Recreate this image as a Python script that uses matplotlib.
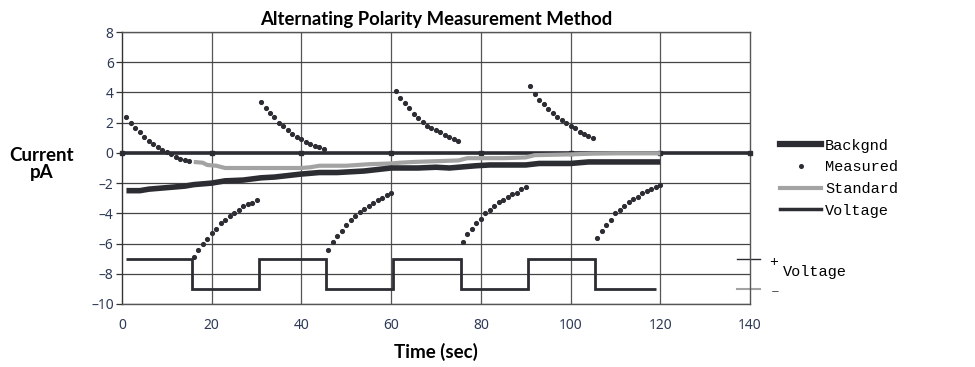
import numpy as np
import matplotlib
matplotlib.use("Agg")
import matplotlib.pyplot as plt
from matplotlib.lines import Line2D

# measured current, one reading per second, 8 half-cycles of 15 s
measured_t = np.arange(1, 121)
measured_pa = [
    2.4, 2.0, 1.65, 1.35, 1.05, 0.8, 0.6, 0.4, 0.2, 0.05, -0.1, -0.25, -0.4, -0.5, -0.55,
    -6.9, -6.45, -6.05, -5.7, -5.3, -5.05, -4.65, -4.45, -4.15, -4.0, -3.8, -3.5, -3.4, -3.3, -3.15,
    3.4, 3.0, 2.65, 2.35, 2.0, 1.75, 1.5, 1.27, 1.07, 0.9, 0.72, 0.58, 0.45, 0.36, 0.23,
    -6.45, -5.9, -5.5, -5.15, -4.8, -4.45, -4.2, -3.92, -3.74, -3.52, -3.3, -3.13, -2.99, -2.8, -2.64,
    4.1, 3.65, 3.3, 2.95, 2.55, 2.3, 2.05, 1.8, 1.65, 1.5, 1.35, 1.2, 1.07, 0.95, 0.8,
    -5.9, -5.4, -5.03, -4.63, -4.36, -4.0, -3.79, -3.52, -3.26, -3.13, -2.91, -2.73, -2.64, -2.42, -2.24,
    4.4, 3.9, 3.5, 3.25, 2.9, 2.65, 2.4, 2.15, 1.95, 1.8, 1.65, 1.4, 1.25, 1.15, 1.0,
    -5.66, -5.18, -4.78, -4.43, -4.01, -3.79, -3.52, -3.28, -3.04, -2.91, -2.64, -2.51, -2.4, -2.24, -2.15,
]

# background current (slow drift)
backgnd_t = [1, 4, 6, 10, 14, 16, 20, 23, 27, 31, 34, 37, 40, 44, 48, 54, 57, 60, 66, 70,
             73, 79, 82, 90, 93, 100, 104, 110, 120]
backgnd_pa = [-2.5, -2.5, -2.4, -2.3, -2.2, -2.1, -2.0, -1.85, -1.8, -1.65, -1.6, -1.5, -1.4,
              -1.3, -1.3, -1.2, -1.1, -1.0, -1.0, -0.95, -1.0, -0.85, -0.8, -0.8, -0.7, -0.7,
              -0.6, -0.6, -0.6]

# standard (alternating polarity result)
standard_t = [16, 18, 19, 21, 23, 30, 35, 40, 42, 44, 50, 55, 60, 62, 65, 70, 75, 77, 85,
              90, 92, 100, 105, 110, 120]
standard_pa = [-0.6, -0.65, -0.8, -0.85, -1.0, -1.0, -1.0, -1.0, -0.95, -0.85, -0.85, -0.75,
               -0.7, -0.65, -0.6, -0.55, -0.5, -0.35, -0.35, -0.3, -0.15, -0.1, -0.05, -0.03, -0.03]

# applied voltage (shown as a square wave on the current scale)
voltage_edges = [1, 15.5, 30.5, 45.5, 60.5, 75.5, 90.5, 105.5, 119]
voltage_levels = [-7, -9, -7, -9, -7, -9, -7, -9]

axis_ticks_x = [0, 20, 40, 60, 80, 100, 120, 140]
y_ticks = [8, 6, 4, 2, 0, -2, -4, -6, -8, -10]

dark = "#2b2d33"
grey = "#a3a3a3"
tick_col = "#2e3a55"

fig = plt.figure(figsize=(9.75, 3.67), dpi=100)
ax = fig.add_axes([0.1251, 0.1717, 0.6441, 0.7411])

ax.set_xlim(0, 140)
ax.set_ylim(-10, 8)

# grid
for x in axis_ticks_x[1:-1]:
    ax.axvline(x, color="#555555", lw=0.9, zorder=0)
for y in y_ticks:
    ax.axhline(y, color="#444444", lw=0.9, zorder=0)
for side in ["top", "right", "left", "bottom"]:
    ax.spines[side].set_color("#555555")
    ax.spines[side].set_linewidth(1.0)
ax.spines["left"].set_color("#333333")

# zero axis with tick markers
ax.plot([0, 140], [0, 0], color=dark, lw=2.6, zorder=3, solid_capstyle="butt")
ax.plot(axis_ticks_x, [0] * len(axis_ticks_x), ls="none", marker="s", ms=2.5,
        color=dark, zorder=3, clip_on=False)

ax.plot(backgnd_t, backgnd_pa, color=dark, lw=4.0, zorder=4, solid_capstyle="butt")
ax.plot(standard_t, standard_pa, color=grey, lw=3.0, zorder=3, solid_capstyle="butt")
ax.plot(measured_t, measured_pa, ls="none", marker="o", ms=2.7, color=dark, zorder=5,
        clip_on=False)
ax.stairs(voltage_levels, voltage_edges, baseline=None, color=dark, lw=2.0, zorder=4)

ax.set_xticks(axis_ticks_x)
ax.set_yticks(y_ticks)
ax.set_yticklabels([str(v).replace("-", "\u2013") for v in y_ticks])
ax.tick_params(axis="x", length=0, pad=10, labelsize=10, labelcolor=tick_col)
ax.tick_params(axis="y", length=4, width=0.9, direction="out", pad=2, labelsize=10,
               labelcolor=tick_col, color="#333333")
for lab in ax.get_xticklabels() + ax.get_yticklabels():
    lab.set_family("Noto Sans")

ax.set_title("Alternating Polarity Measurement Method", fontsize=13.3, fontweight="bold",
             family="Lato", pad=5)
ax.set_xlabel("Time (sec)", fontsize=13.5, fontweight="bold", family="Lato", labelpad=7)
fig.text(0.043, 0.553, "Current\npA", ha="center", va="center", fontsize=13.5,
         fontweight="bold", family="Lato", linespacing=1.05)

# voltage polarity markers on the right
ax.plot([137.1, 142.2], [-7, -7], color=dark, lw=1.0, clip_on=False)
ax.plot([137.1, 142.2], [-9, -9], color=grey, lw=1.5, clip_on=False)
mono = "Liberation Mono"
fig.text(0.793, 0.287, "+", fontsize=10.5, family=mono, ha="center", va="center")
fig.text(0.803, 0.258, "Voltage", fontsize=11, family=mono, ha="left", va="center")
fig.text(0.795, 0.207, "\u2013", fontsize=10.5, family=mono, ha="center", va="center",
         color="#555")

handles = [
    Line2D([], [], color=dark, lw=4.5),
    Line2D([], [], ls="none", marker="o", ms=2.6, color=dark),
    Line2D([], [], color=grey, lw=3.0),
    Line2D([], [], color=dark, lw=2.5),
]
fig.legend(handles, ["Backgnd", "Measured", "Standard", "Voltage"], loc="upper left",
           bbox_to_anchor=(0.8, 0.622), frameon=False, prop={"family": mono, "size": 11},
           handlelength=2.7, handletextpad=0.25, labelspacing=0.5, borderpad=0,
           borderaxespad=0)

fig.savefig("out.png", dpi=100)
